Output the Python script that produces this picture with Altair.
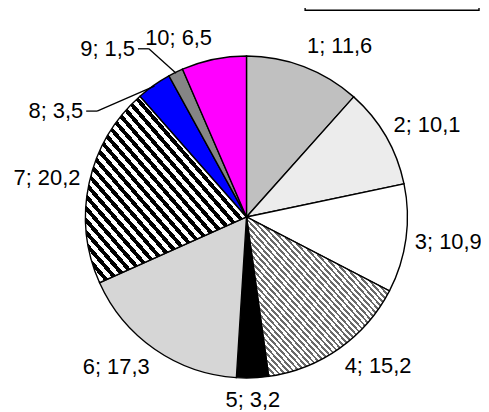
import math
import altair as alt
import pandas as pd

# ---- data ----
ids = [1, 2, 3, 4, 5, 6, 7, 8, 9, 10]
values = [11.6, 10.1, 10.9, 15.2, 3.2, 17.3, 20.2, 3.5, 1.5, 6.5]
labels = [f"{i}; {str(v).replace('.', ',')}" for i, v in zip(ids, values)]

df = pd.DataFrame({"id": ids, "value": values, "label": labels})

# ---- layout / style ----
W, H = 476, 404
CX, CY, R = 240, 209, 162
FONT = "Liberation Sans"


def stripes(n, line_color, frac, x1, y1, x2, y2):
    stops = []
    for k in range(n):
        a = k / n
        b = (k + frac) / n
        c = (k + 1) / n
        stops += [
            {"offset": a, "color": line_color},
            {"offset": b, "color": line_color},
            {"offset": b, "color": "#ffffff"},
            {"offset": c, "color": "#ffffff"},
        ]
    return {"gradient": "linear", "stops": stops, "x1": x1, "y1": y1, "x2": x2, "y2": y2}


fills = {
    1: "#c0c0c0",
    2: "#ececec",
    3: "#ffffff",
    4: stripes(51, "#6a6a6a", 0.45, 0, 1, 1, 0),
    5: "#000000",
    6: "#d6d6d6",
    7: stripes(31, "#000000", 0.5, 0, 1, 1, 0),
    8: "#0000ff",
    9: "#858585",
    10: "#ff00ff",
}

base = alt.Chart(df).transform_window(
    cum="sum(value)", sort=[alt.SortField("id")], frame=[None, 0]
).transform_calculate(
    start="datum.cum - datum.value",
    mid="(datum.cum - datum.value / 2) / 100 * 2 * PI",
)

theta_scale = alt.Scale(domain=[0, 100], range=[0, 2 * math.pi])

layers = []
for i in ids:
    layers.append(
        base.transform_filter(alt.datum.id == i)
        .mark_arc(fill=fills[i], stroke="#000000", strokeWidth=1.4, radius=R)
        .encode(
            theta=alt.Theta("start:Q", scale=theta_scale),
            theta2="cum:Q",
            x=alt.value(CX),
            y=alt.value(CY),
        )
    )

lab = base.transform_calculate(
    s="sin(datum.mid)",
    c="cos(datum.mid)",
    ox="datum.id == 8 ? -66 : (datum.id == 9 ? -37 : 0)",
    oy="datum.id == 8 ? 44 : (datum.id == 9 ? -4 : 0)",
).transform_calculate(
    lx=f"{CX} + 171 * datum.s + datum.ox",
    ly=f"{CY} - 184 * datum.c + datum.oy",
    side="datum.s > 0.1 ? 'right' : (datum.s < -0.1 ? 'left' : 'center')",
    ex=f"{CX} + {R - 1} * datum.s",
    ey=f"{CY} - {R - 1} * datum.c",
)

for side, align in [("right", "left"), ("left", "right"), ("center", "center")]:
    layers.append(
        lab.transform_filter(alt.datum.side == side)
        .mark_text(align=align, baseline="middle", font=FONT, fontSize=22, color="#000000")
        .encode(
            x=alt.X("lx:Q", scale=None),
            y=alt.Y("ly:Q", scale=None),
            text="label:N",
        )
    )

lead = lab.transform_filter("datum.id == 8 || datum.id == 9").transform_calculate(
    sx="datum.lx + 3", kx="datum.lx + 14"
)
layers.append(
    lead.mark_rule(color="#000000", strokeWidth=1.3).encode(
        x=alt.X("sx:Q", scale=None), x2="kx:Q",
        y=alt.Y("ly:Q", scale=None), y2="ly:Q",
    )
)
layers.append(
    lead.mark_rule(color="#000000", strokeWidth=1.3).encode(
        x=alt.X("kx:Q", scale=None), x2="ex:Q",
        y=alt.Y("ly:Q", scale=None), y2="ey:Q",
    )
)

# empty legend frame (top right, partly cut off)
box = alt.Chart(pd.DataFrame({"k": [0]})).mark_rect(
    fill="#ffffff", stroke="#000000", strokeWidth=1.4
).encode(x=alt.value(299), x2=alt.value(474), y=alt.value(-10), y2=alt.value(1))
layers.append(box)

chart = alt.layer(*layers).properties(
    width=W, height=H, autosize="none", padding=0
).configure_view(stroke=None)

chart.save("out.html", embed_options={"renderer": "svg", "actions": False})
